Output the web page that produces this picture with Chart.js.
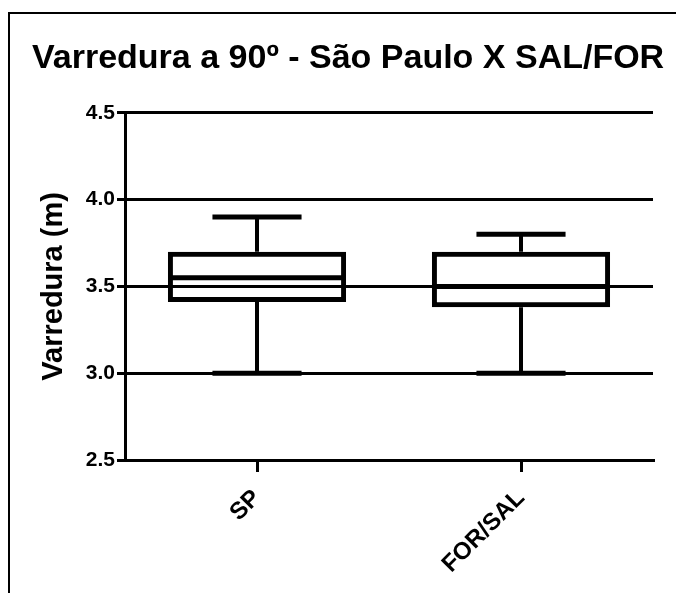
<!DOCTYPE html>
<html>
<head>
<meta charset="utf-8">
<script src="https://cdn.jsdelivr.net/npm/chart.js@4.4.0/dist/chart.umd.min.js"></script>
<style>
  html, body { margin: 0; padding: 0; background: #fff; }
  #wrap { position: relative; width: 676px; height: 593px; overflow: hidden; }
  #frame { position: absolute; left: 8px; top: 12px; width: 700px; height: 620px;
           border-left: 2px solid #000; border-top: 2px solid #000; pointer-events: none; }
  canvas { position: absolute; left: 0; top: 0; }
</style>
</head>
<body>
<div id="wrap">
  <canvas id="boxChart" width="676" height="593"></canvas>
  <div id="frame"></div>
</div>
<script>
const categories = ['SP', 'FOR/SAL'];
const minVals = [3.0, 3.0];
const q1Vals = [3.41, 3.38];
const medianVals = [3.55, 3.5];
const q3Vals = [3.7, 3.7];
const maxVals = [3.9, 3.8];
const yTickValues = [2.5, 3.0, 3.5, 4.0, 4.5];

const FONT = "'Liberation Sans', Arial, sans-serif";

// whiskers, caps and medians, placed with the chart's own scales
const boxExtras = {
  id: 'boxExtras',
  afterDatasetsDraw(chart) {
    const ctx = chart.ctx;
    const y = chart.scales.y;
    const meta = chart.getDatasetMeta(0);
    ctx.save();
    ctx.strokeStyle = '#000';
    meta.data.forEach(function(bar, i) {
      const x = bar.x, w = bar.width;
      const pMin = y.getPixelForValue(minVals[i]);
      const pQ1 = y.getPixelForValue(q1Vals[i]);
      const pMed = y.getPixelForValue(medianVals[i]);
      const pQ3 = y.getPixelForValue(q3Vals[i]);
      const pMax = y.getPixelForValue(maxVals[i]);
      ctx.lineWidth = 4;
      ctx.beginPath();
      ctx.moveTo(x, pQ3); ctx.lineTo(x, pMax);
      ctx.moveTo(x, pQ1); ctx.lineTo(x, pMin);
      ctx.stroke();
      ctx.lineWidth = 5;
      ctx.beginPath();
      ctx.moveTo(x - w / 4, pMax); ctx.lineTo(x + w / 4, pMax);
      ctx.moveTo(x - w / 4, pMin); ctx.lineTo(x + w / 4, pMin);
      ctx.moveTo(x - w / 2 + 2, pMed); ctx.lineTo(x + w / 2 - 2, pMed);
      ctx.stroke();
    });
    ctx.restore();
  }
};

new Chart(document.getElementById('boxChart').getContext('2d'), {
  type: 'bar',
  data: {
    labels: categories,
    datasets: [{
      data: q1Vals.map(function(v, i) { return [v, q3Vals[i]]; }),
      backgroundColor: 'rgba(0,0,0,0)',
      borderColor: '#000',
      borderWidth: 5,
      borderSkipped: false,
      barPercentage: 0.675,
      categoryPercentage: 1.0
    }]
  },
  options: {
    responsive: false,
    animation: false,
    layout: { padding: { left: 32, right: 11, top: 0, bottom: 0 } },
    plugins: {
      legend: { display: false },
      tooltip: { enabled: false },
      title: {
        display: true,
        text: 'Varredura a 90º - São Paulo X SAL/FOR',
        align: 'start',
        color: '#000',
        font: { family: FONT, size: 34, weight: 'bold' },
        padding: { top: 38, bottom: 34 }
      }
    },
    scales: {
      x: {
        afterFit: function(s) { s.height = 133; },
        grid: { drawOnChartArea: false, drawTicks: true, tickLength: 12, offset: false, color: '#000', lineWidth: 3 },
        border: { display: true, color: '#000', width: 3 },
        ticks: { color: '#000', font: { family: FONT, size: 24, weight: 'bold' }, minRotation: 45, maxRotation: 45, padding: 12 }
      },
      y: {
        min: 2.5, max: 4.5,
        afterFit: function(s) { s.width = 93; },
        afterBuildTicks: function(s) { s.ticks = yTickValues.map(function(v) { return { value: v }; }); },
        grid: { color: '#000', lineWidth: 3, drawTicks: true, tickLength: 8 },
        border: { display: true, color: '#000', width: 3 },
        ticks: { color: '#000', padding: 2, font: { family: FONT, size: 21, weight: 'bold' },
                 callback: function(v) { return Number(v).toFixed(1); } },
        title: { display: true, text: 'Varredura (m)', color: '#000',
                 font: { family: FONT, size: 29, weight: 'bold' }, padding: { top: 5, bottom: 0 } }
      },
      // empty right-hand strip so the plot ends where the reference does
      yRight: {
        position: 'right',
        min: 2.5, max: 4.5,
        afterFit: function(s) { s.width = 12; },
        grid: { display: false },
        border: { display: false },
        ticks: { display: false }
      }
    }
  },
  plugins: [boxExtras]
});
</script>
</body>
</html>
